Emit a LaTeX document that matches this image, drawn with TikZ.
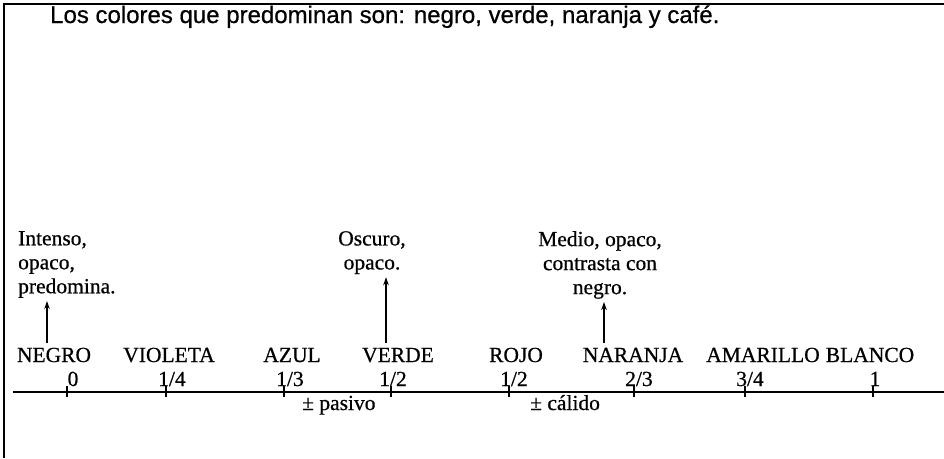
\documentclass[tikz,border=0pt]{standalone}
\usepackage{fontspec}
\setmainfont[FakeBold=0.6]{Liberation Serif}
\newfontfamily\sansf[FakeBold=0.6]{Liberation Sans}
\usetikzlibrary{arrows.meta}
\begin{document}
\begin{tikzpicture}[x=1pt,y=-1pt,
  lbl/.style={inner sep=0pt, font=\fontsize{21.5}{24}\selectfont, anchor=base},
  ann/.style={inner sep=0pt, font=\fontsize{21.5}{24}\selectfont, anchor=north},
  arr/.style={line width=1.2pt, -{Stealth[length=8pt,width=5.5pt]}, shorten >=3pt},
  tickmark/.style={line width=1.3pt},
  rule/.style={line width=1.2pt}]
\useasboundingbox (0,0) rectangle (944,458);
\fill[white] (0,0) rectangle (944,458);
% frame
\coordinate (fTR) at (944,4);
\coordinate (fTL) at (4,4);
\coordinate (fBL) at (4,458);
\draw[line width=1.4pt] (fTR) -- (fTL) -- (fBL);
% title
\node[inner sep=0pt, anchor=base west, font=\sansf\fontsize{24}{27}\selectfont] (title) at (50,23)
  {Los colores que predominan son: negro, verde, naranja y café.};
% axis
\coordinate (axL) at (13,392);
\coordinate (axR) at (944,392);
\draw[rule] (axL) -- (axR);
\foreach \x/\n in {67/t0,166/t1,284/t2,391/t3,509/t4,634/t5,745/t6,873/t7}{
  \coordinate (\n) at (\x,392);
  \draw[tickmark] ([yshift=-5pt]\n) -- ([yshift=6pt]\n);
}
% colour names
\node[lbl] (negro) at (54,362) {NEGRO};
\node[lbl] (violeta) at (169,362) {VIOLETA};
\node[lbl] (azul) at (292,362) {AZUL};
\node[lbl] (verde) at (398,362) {VERDE};
\node[lbl] (rojo) at (516,362) {ROJO};
\node[lbl] (naranja) at (633,362) {NARANJA};
\node[lbl] (amarillo) at (763,362) {AMARILLO};
\node[lbl] (blanco) at (870,362) {BLANCO};
% values
\node[lbl] (v0) at (73,386) {0};
\node[lbl] (v1) at (172,386) {1/4};
\node[lbl] (v2) at (290,386) {1/3};
\node[lbl] (v3) at (393,386) {1/2};
\node[lbl] (v4) at (514,386) {1/2};
\node[lbl] (v5) at (639,386) {2/3};
\node[lbl] (v6) at (750,386) {3/4};
\node[lbl] (v7) at (875,386) {1};
% ranges
\node[lbl, anchor=base west] (pasivo) at (302,410) {± pasivo};
\node[lbl, anchor=base west] (calido) at (530,410) {± cálido};
% annotations
\node[ann, anchor=north west, align=left] (aNegro) at (18,231) {Intenso,\\opaco,\\predomina.};
\node[ann, align=center] (aVerde) at (372,231) {Oscuro,\\opaco.};
\node[ann, align=center] (aNaranja) at (600,231) {Medio, opaco,\\contrasta con\\negro.};
% arrows
\coordinate (sNegro) at (47,343);
\coordinate (sVerde) at (386,343);
\coordinate (sNaranja) at (604,343);
\draw[arr] (sNegro) -- (sNegro |- aNegro.south);
\draw[arr] (sVerde) -- (sVerde |- aVerde.south);
\draw[arr] (sNaranja) -- (sNaranja |- aNaranja.south);
\end{tikzpicture}
\end{document}
